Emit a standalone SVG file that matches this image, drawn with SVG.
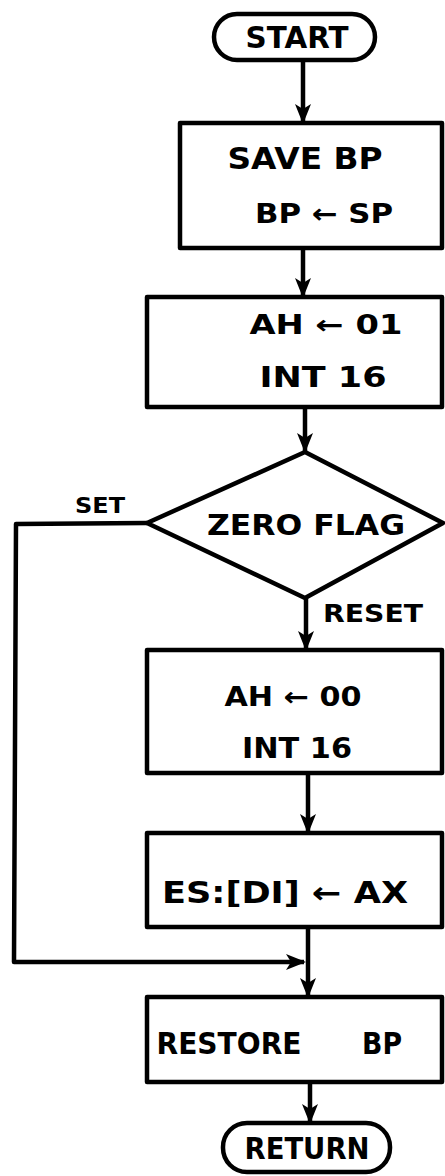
<svg xmlns="http://www.w3.org/2000/svg" width="445" height="1176" viewBox="0 0 445 1176">
<style>
.box{fill:#fff;stroke:#000;stroke-width:4.5;stroke-linejoin:round}
.t{font-family:"DejaVu Sans","Liberation Sans",sans-serif;font-weight:bold;fill:#000;text-anchor:middle;dominant-baseline:central}
.c{fill:none;stroke:#000;stroke-width:4.5;stroke-linejoin:round}
</style>
<defs>
<marker id="ah" markerUnits="userSpaceOnUse" markerWidth="20" markerHeight="18" refX="18" refY="9" orient="auto">
<path d="M0,1 L20,9 L0,17 L5,9 Z" fill="#000"/>
</marker>
</defs>
<rect width="445" height="1176" fill="#fff"/>
<g id="connectors">
<path class="c" d="M303,60 L303,122" marker-end="url(#ah)"/>
<path class="c" d="M303,248 L303,296" marker-end="url(#ah)"/>
<path class="c" d="M305,407 L305,451" marker-end="url(#ah)"/>
<path class="c" d="M306,598 L306,649" marker-end="url(#ah)"/>
<path class="c" d="M308,773 L308,832" marker-end="url(#ah)"/>
<path class="c" d="M308,927 L308,996" marker-end="url(#ah)"/>
<path class="c" d="M310,1082 L310,1122" marker-end="url(#ah)"/>
<path class="c" d="M147,523 L16,524 L14,962 L304,962" marker-end="url(#ah)"/>
<text class="t" x="100" y="506" font-size="21" textLength="50" lengthAdjust="spacingAndGlyphs">SET</text>
<text class="t" x="373" y="613" font-size="25" textLength="100" lengthAdjust="spacingAndGlyphs">RESET</text>
</g>
<g id="start">
<rect class="box" x="214" y="14" width="161" height="46" rx="23"/>
<text class="t" x="297" y="37" font-size="30" textLength="103" lengthAdjust="spacingAndGlyphs">START</text>
</g>
<g id="save-bp">
<rect class="box" x="180" y="123" width="262" height="125"/>
<text class="t" x="305" y="158" font-size="31" textLength="155" lengthAdjust="spacingAndGlyphs">SAVE BP</text>
<text class="t" x="324" y="213" font-size="27" textLength="138" lengthAdjust="spacingAndGlyphs">BP ← SP</text>
</g>
<g id="ah01">
<rect class="box" x="147" y="297" width="295" height="110"/>
<text class="t" x="326" y="325" font-size="26" textLength="153" lengthAdjust="spacingAndGlyphs">AH ← 01</text>
<text class="t" x="323" y="377" font-size="28" textLength="127" lengthAdjust="spacingAndGlyphs">INT 16</text>
</g>
<g id="zero-flag">
<polygon class="box" points="305,452 443,523 305,598 147,523"/>
<text class="t" x="306" y="525" font-size="28" textLength="198" lengthAdjust="spacingAndGlyphs">ZERO FLAG</text>
</g>
<g id="ah00">
<rect class="box" x="147" y="650" width="295" height="123"/>
<text class="t" x="293" y="697" font-size="26" textLength="137" lengthAdjust="spacingAndGlyphs">AH ← 00</text>
<text class="t" x="297" y="748" font-size="28" textLength="110" lengthAdjust="spacingAndGlyphs">INT 16</text>
</g>
<g id="store">
<rect class="box" x="147" y="833" width="295" height="94"/>
<text class="t" x="285" y="892" font-size="30" textLength="246" lengthAdjust="spacingAndGlyphs">ES:[DI] ← AX</text>
</g>
<g id="restore">
<rect class="box" x="147" y="997" width="295" height="85"/>
<text class="t" x="229" y="1043" font-size="30" textLength="145" lengthAdjust="spacingAndGlyphs">RESTORE</text>
<text class="t" x="382" y="1043" font-size="30" textLength="40" lengthAdjust="spacingAndGlyphs">BP</text>
</g>
<g id="return">
<rect class="box" x="223" y="1123" width="167" height="49" rx="24"/>
<text class="t" x="307" y="1148" font-size="30" textLength="125" lengthAdjust="spacingAndGlyphs">RETURN</text>
</g>
</svg>
